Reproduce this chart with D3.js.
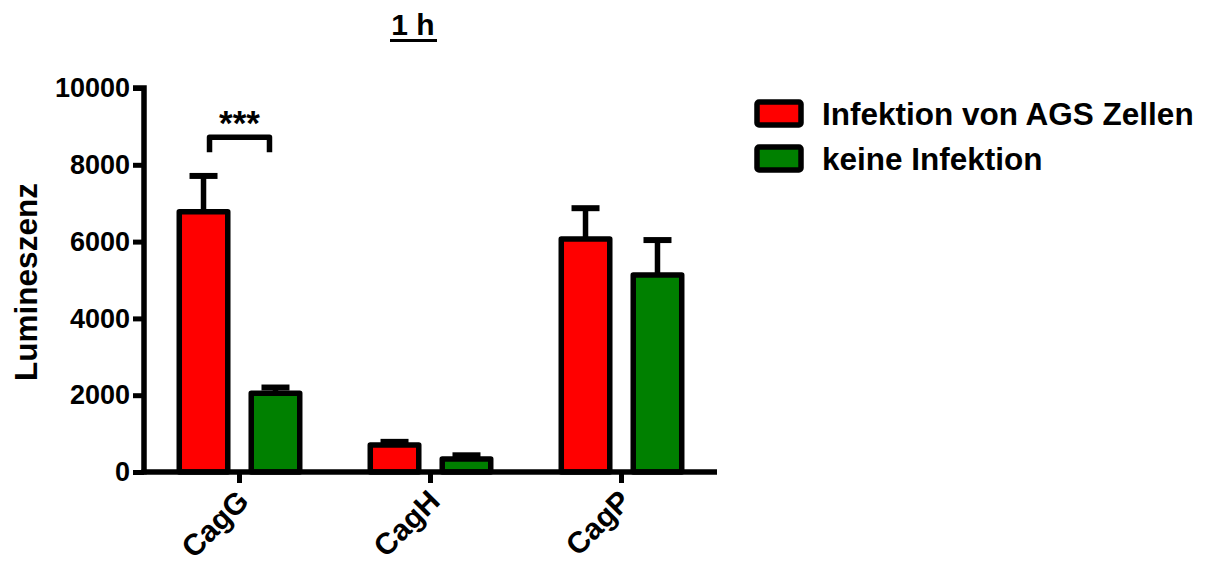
<!DOCTYPE html>
<html>
<head>
<meta charset="utf-8">
<script src="https://cdn.jsdelivr.net/npm/d3@7"></script>
<style>
  html, body { margin: 0; padding: 0; background: #fff; }
  svg { display: block; font-family: "Liberation Sans", Arial, sans-serif; }
</style>
</head>
<body>
<svg id="chart" width="1208" height="563"></svg>
<script>
// Luminescence after 1 h, mean + upper error (SEM)
const categories = ["CagG", "CagH", "CagP"];
const seriesNames = ["Infektion von AGS Zellen", "keine Infektion"];
const seriesColors = ["#ff0000", "#008000"];
const infectedValues = [6780, 700, 6070];
const infectedErrors = [930, 85, 800];
const controlValues = [2050, 340, 5130];
const controlErrors = [150, 95, 910];
const yTicks = [0, 2000, 4000, 6000, 8000, 10000];
const significance = [{ category: "CagG", level: 8720, legDrop: 390, label: "***" }];

const titleText = "1 h";
const yLabel = "Lumineszenz";

const rows = [];
categories.forEach((c, i) => {
  rows.push({ category: c, series: 0, value: infectedValues[i], error: infectedErrors[i] });
  rows.push({ category: c, series: 1, value: controlValues[i], error: controlErrors[i] });
});

const svg = d3.select("#chart");
const STROKE = 5.5;

const x0 = d3.scaleBand().domain(categories).range([144, 717]).padding(0);
const x1 = d3.scaleBand().domain([0, 1]).range([0, x0.bandwidth()])
  .paddingInner(0.326).paddingOuter(0.49);
const y = d3.scaleLinear().domain([0, 10000]).range([472, 88]);

// Title
svg.append("text")
  .attr("x", 413).attr("y", 35)
  .attr("text-anchor", "middle")
  .attr("font-size", 30).attr("font-weight", "bold")
  .text(titleText);
svg.append("line")
  .attr("x1", 390).attr("x2", 437)
  .attr("y1", 40.5).attr("y2", 40.5)
  .attr("stroke", "#000").attr("stroke-width", 3);

// Bars
const bars = svg.append("g");
bars.selectAll("rect").data(rows).join("rect")
  .attr("x", d => x0(d.category) + x1(d.series))
  .attr("width", x1.bandwidth())
  .attr("y", d => y(d.value))
  .attr("height", d => y(0) - y(d.value))
  .attr("fill", d => seriesColors[d.series])
  .attr("stroke", "#000")
  .attr("stroke-width", STROKE)
  .attr("stroke-linejoin", "round");

// Upper error bars
const err = svg.append("g").attr("stroke", "#000");
err.selectAll("line.stem").data(rows).join("line")
  .attr("class", "stem")
  .attr("x1", d => x0(d.category) + x1(d.series) + x1.bandwidth() / 2)
  .attr("x2", d => x0(d.category) + x1(d.series) + x1.bandwidth() / 2)
  .attr("y1", d => y(d.value))
  .attr("y2", d => y(d.value + d.error))
  .attr("stroke-width", 5.5);
err.selectAll("line.cap").data(rows).join("line")
  .attr("class", "cap")
  .attr("x1", d => x0(d.category) + x1(d.series) + x1.bandwidth() / 2 - 14)
  .attr("x2", d => x0(d.category) + x1(d.series) + x1.bandwidth() / 2 + 14)
  .attr("y1", d => y(d.value + d.error))
  .attr("y2", d => y(d.value + d.error))
  .attr("stroke-width", 6);

// Axes
const yAxis = svg.append("g")
  .attr("transform", "translate(144,0)")
  .call(d3.axisLeft(y).tickValues(yTicks).tickSize(11).tickPadding(3).tickFormat(d3.format("d")));
const xAxis = svg.append("g")
  .attr("transform", `translate(0,${y(0)})`)
  .call(d3.axisBottom(x0).tickSize(11).tickSizeOuter(0).tickPadding(6));

[yAxis, xAxis].forEach(g => {
  g.select(".domain").attr("stroke", "#000").attr("stroke-width", 5.5);
  g.selectAll(".tick line").attr("stroke", "#000").attr("stroke-width", 5);
});
yAxis.select(".domain").attr("d", `M-11,${y(10000)}H0V${y(0) + 2.5}`);
xAxis.select(".domain").attr("d", `M${x0.range()[0] - 2.5},0H${x0.range()[1]}`);

yAxis.selectAll(".tick text")
  .attr("fill", "#000")
  .attr("font-family", "'Liberation Sans', Arial, sans-serif")
  .attr("font-size", 27).attr("font-weight", "bold");

xAxis.selectAll(".tick text")
  .attr("fill", "#000")
  .attr("font-family", "'Liberation Sans', Arial, sans-serif")
  .attr("font-size", 30).attr("font-weight", "bold")
  .attr("text-anchor", "end")
  .attr("dy", null)
  .attr("transform", "translate(11,31) rotate(-45)")
  .attr("y", 0).attr("x", 0);

// Y axis title
svg.append("text")
  .attr("transform", `translate(37,${(y(0) + y(10000)) / 2 + 2}) rotate(-90)`)
  .attr("text-anchor", "middle")
  .attr("font-size", 31.5).attr("font-weight", "bold")
  .text(yLabel);

// Significance bracket
significance.forEach(s => {
  const xa = x0(s.category) + x1(0) + x1.bandwidth() / 2 + 6;
  const xb = x0(s.category) + x1(1) + x1.bandwidth() / 2 - 6;
  const yl = y(s.level);
  const yd = y(s.level - s.legDrop);
  svg.append("path")
    .attr("d", `M${xa},${yd}V${yl}H${xb}V${yd}`)
    .attr("fill", "none").attr("stroke", "#000")
    .attr("stroke-width", 5.5).attr("stroke-linejoin", "round");
  svg.append("text")
    .attr("x", (xa + xb) / 2).attr("y", yl - 2)
    .attr("text-anchor", "middle")
    .attr("font-size", 35).attr("font-weight", "bold")
    .text(s.label);
});

// Legend
const legend = svg.append("g");
seriesNames.forEach((name, i) => {
  const gy = 102 + i * 45;
  legend.append("rect")
    .attr("x", 757).attr("y", gy).attr("width", 44).attr("height", 23)
    .attr("rx", 2)
    .attr("fill", seriesColors[i]).attr("stroke", "#000").attr("stroke-width", 5.5);
  legend.append("text")
    .attr("x", 822).attr("y", gy + 23)
    .attr("font-size", 31.5).attr("font-weight", "bold")
    .text(name);
});
</script>
</body>
</html>
